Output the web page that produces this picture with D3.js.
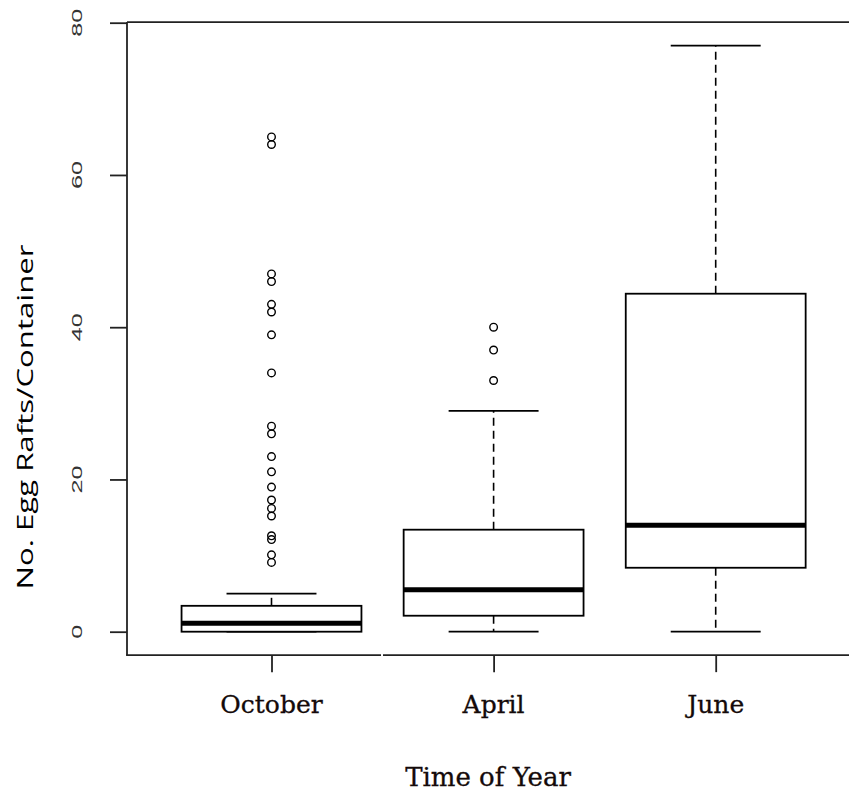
<!DOCTYPE html>
<html>
<head>
<meta charset="utf-8">
<script src="https://cdn.jsdelivr.net/npm/d3@7"></script>
<style>
  body { margin: 0; background: #fff; }
  svg { display: block; }
</style>
</head>
<body>
<div id="chart"></div>
<script>
// ---- data ----
var categories = ["October", "April", "June"];
var whiskerLow = [0, 0, 0];
var q1 = [0, 2.1, 8.4];
var medians = [1.1, 5.5, 14];
var q3 = [3.4, 13.4, 44.4];
var whiskerHigh = [5, 29, 77];
var outliersOctober = [65, 64, 47, 46, 43, 42, 39, 34, 27, 26, 23, 21, 19, 17.3, 16.2, 15.2, 12.6, 12.1, 10.1, 9.1];
var outliersApril = [40, 37, 33];
var outliersJune = [];
var yTicks = [0, 20, 40, 60, 80];

var width = 849, height = 795;
var frameLeft = 127, frameRight = 849;

var svg = d3.select("#chart").append("svg")
  .attr("width", width)
  .attr("height", height);

svg.append("rect").attr("width", width).attr("height", height).attr("fill", "#fff");

// scales
var x = d3.scalePoint().domain(categories).range([271.5, 715.7]);
var y = d3.scaleLinear().domain([0, 80]).range([631.7, 22.7]);
var boxW = x.step() * 0.81;
var capW = boxW / 2;

var boxes = categories.map(function (c, i) {
  return { cat: c, lo: whiskerLow[i], q1: q1[i], med: medians[i], q3: q3[i], hi: whiskerHigh[i] };
});
var outliers = [];
outliersOctober.forEach(function (v) { outliers.push({ cat: "October", v: v }); });
outliersApril.forEach(function (v) { outliers.push({ cat: "April", v: v }); });
outliersJune.forEach(function (v) { outliers.push({ cat: "June", v: v }); });

// frame (plot area is cut off at the right edge)
var yTop = y(80.08), yBot = y(-3.08);
var frame = svg.append("g").attr("stroke", "#222").attr("stroke-width", 1.8).attr("fill", "none");
frame.append("line").attr("x1", frameLeft).attr("x2", frameLeft).attr("y1", yTop).attr("y2", yBot);
frame.append("line").attr("x1", frameLeft).attr("x2", frameRight).attr("y1", yTop).attr("y2", yTop);
frame.append("line").attr("x1", frameLeft - 0.9).attr("x2", 381).attr("y1", yBot).attr("y2", yBot);
frame.append("line").attr("x1", 383).attr("x2", frameRight).attr("y1", yBot).attr("y2", yBot);

// y axis ticks
var yAxis = svg.append("g")
  .attr("transform", "translate(" + frameLeft + ",0)")
  .call(d3.axisLeft(y).tickValues(yTicks).tickSize(17).tickFormat(""));
yAxis.select(".domain").remove();
yAxis.selectAll("line").attr("stroke", "#222").attr("stroke-width", 1.8);

// y tick labels, rotated like R
svg.append("g").selectAll("text")
  .data(yTicks)
  .enter().append("text")
  .attr("transform", function (d) { return "translate(82," + y(d) + ") rotate(-90)"; })
  .attr("text-anchor", "middle")
  .attr("font-family", "Liberation Sans, Arial, sans-serif")
  .attr("font-size", 15)
  .attr("fill", "#333")
  .attr("textLength", function (d) { return String(d).length * 14; })
  .attr("lengthAdjust", "spacingAndGlyphs")
  .text(function (d) { return d; });

// x axis ticks
var xAxis = svg.append("g")
  .attr("transform", "translate(0," + yBot + ")")
  .call(d3.axisBottom(x).tickSize(17).tickFormat(""));
xAxis.select(".domain").remove();
xAxis.selectAll("line").attr("stroke", "#222").attr("stroke-width", 1.8);

// x tick labels
svg.append("g").selectAll("text")
  .data(categories)
  .enter().append("text")
  .attr("x", function (d) { return x(d); })
  .attr("y", 713)
  .attr("text-anchor", "middle")
  .attr("font-family", "DejaVu Serif, serif")
  .attr("font-size", 25)
  .attr("fill", "#140a0a")
  .attr("stroke", "#140a0a")
  .attr("stroke-width", 0.3)
  .text(function (d) { return d; });

// axis titles
svg.append("text")
  .attr("x", (frameLeft + frameRight) / 2)
  .attr("y", 786)
  .attr("text-anchor", "middle")
  .attr("font-family", "DejaVu Serif, serif")
  .attr("font-size", 26)
  .attr("fill", "#140a0a")
  .attr("stroke", "#140a0a")
  .attr("stroke-width", 0.3)
  .text("Time of Year");

svg.append("text")
  .attr("transform", "translate(33,417) rotate(-90)")
  .attr("text-anchor", "middle")
  .attr("font-family", "Open Sans, Noto Sans, sans-serif")
  .attr("font-size", 22)
  .attr("fill", "#000")
  .attr("textLength", 345)
  .attr("lengthAdjust", "spacingAndGlyphs")
  .text("No. Egg Rafts/Container");

// boxes
var g = svg.append("g").selectAll("g")
  .data(boxes)
  .enter().append("g");

// dashed whiskers
g.append("line")
  .attr("x1", function (d) { return x(d.cat); })
  .attr("x2", function (d) { return x(d.cat); })
  .attr("y1", function (d) { return y(d.q3); })
  .attr("y2", function (d) { return y(d.hi); })
  .attr("stroke", "#000").attr("stroke-width", 1.6).attr("stroke-dasharray", "8,5");
g.append("line")
  .attr("x1", function (d) { return x(d.cat); })
  .attr("x2", function (d) { return x(d.cat); })
  .attr("y1", function (d) { return y(d.q1); })
  .attr("y2", function (d) { return y(d.lo); })
  .attr("stroke", "#000").attr("stroke-width", 1.6).attr("stroke-dasharray", "8,5");

// whisker caps
g.append("line")
  .attr("x1", function (d) { return x(d.cat) - capW / 2; })
  .attr("x2", function (d) { return x(d.cat) + capW / 2; })
  .attr("y1", function (d) { return y(d.hi); })
  .attr("y2", function (d) { return y(d.hi); })
  .attr("stroke", "#000").attr("stroke-width", 1.8);
g.append("line")
  .attr("x1", function (d) { return x(d.cat) - capW / 2; })
  .attr("x2", function (d) { return x(d.cat) + capW / 2; })
  .attr("y1", function (d) { return y(d.lo); })
  .attr("y2", function (d) { return y(d.lo); })
  .attr("stroke", "#000").attr("stroke-width", 1.8);

// box
g.append("rect")
  .attr("x", function (d) { return x(d.cat) - boxW / 2; })
  .attr("width", boxW)
  .attr("y", function (d) { return y(d.q3); })
  .attr("height", function (d) { return y(d.q1) - y(d.q3); })
  .attr("fill", "#fff")
  .attr("stroke", "#000").attr("stroke-width", 1.8);

// median
g.append("line")
  .attr("x1", function (d) { return x(d.cat) - boxW / 2; })
  .attr("x2", function (d) { return x(d.cat) + boxW / 2; })
  .attr("y1", function (d) { return y(d.med); })
  .attr("y2", function (d) { return y(d.med); })
  .attr("stroke", "#000").attr("stroke-width", 5);

// outliers
svg.append("g").selectAll("circle")
  .data(outliers)
  .enter().append("circle")
  .attr("cx", function (d) { return x(d.cat); })
  .attr("cy", function (d) { return y(d.v); })
  .attr("r", 3.8)
  .attr("fill", "none")
  .attr("stroke", "#000")
  .attr("stroke-width", 1.4);
</script>
</body>
</html>
